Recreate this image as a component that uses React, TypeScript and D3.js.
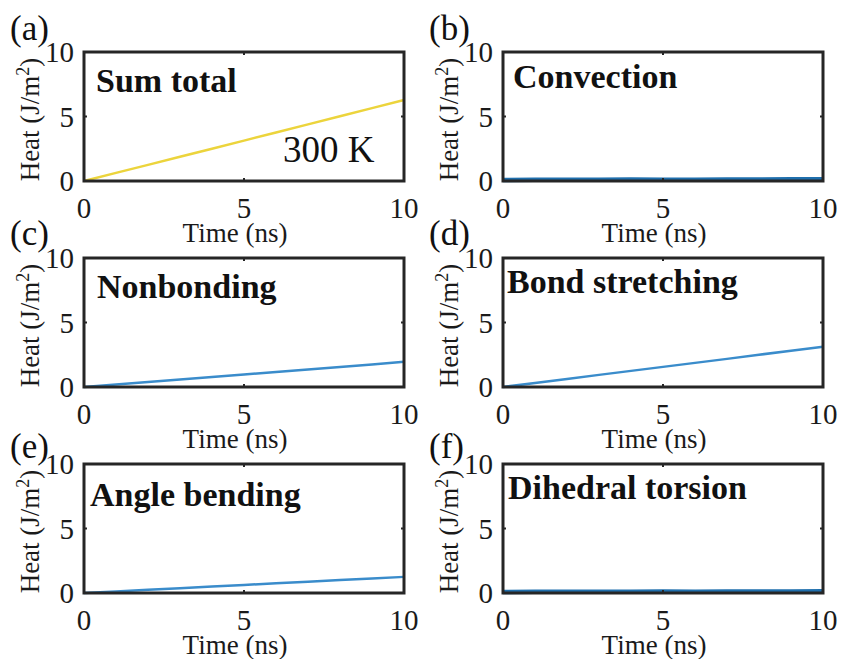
import React from "react";
import * as d3 from "d3";

const timeNs = [0, 1, 2, 3, 4, 5, 6, 7, 8, 9, 10];
const sumTotal = [0, 0.63, 1.25, 1.88, 2.5, 3.13, 3.76, 4.39, 5.02, 5.65, 6.28];
const convection = [0.08, 0.1, 0.09, 0.1, 0.11, 0.1, 0.1, 0.11, 0.12, 0.13, 0.14];
const nonbonding = [0, 0.19, 0.39, 0.58, 0.77, 0.97, 1.16, 1.36, 1.55, 1.75, 1.95];
const bondStretching = [0, 0.31, 0.62, 0.94, 1.25, 1.56, 1.87, 2.18, 2.5, 2.81, 3.12];
const angleBending = [0, 0.12, 0.25, 0.37, 0.5, 0.62, 0.75, 0.87, 1.0, 1.12, 1.25];
const dihedralTorsion = [0.08, 0.09, 0.1, 0.1, 0.1, 0.11, 0.1, 0.11, 0.12, 0.12, 0.13];

const panelTags = ["(a)", "(b)", "(c)", "(d)", "(e)", "(f)"];
const panelTitles = ["Sum total", "Convection", "Nonbonding", "Bond stretching", "Angle bending", "Dihedral torsion"];
const seriesList = [sumTotal, convection, nonbonding, bondStretching, angleBending, dihedralTorsion];
const xTicks = [0, 5, 10];
const yTicks = [0, 5, 10];
const xLabel = "Time (ns)";
const annotation = "300 K";

// styling / layout
const colLeft = [84, 503];
const rowTop = [52, 258, 464];
const plotW = 320;
const plotH = 129;
const titleDx = [12, 10, 13, 4, 6, 5];
const titleDy = [40, 36, 40, 35, 42, 35];
const tagDy = [-12, -12, -13, -13, -6, -6];
const lineColors = ["#ecd43c", "#1f6fad", "#3a8ccb", "#3a8ccb", "#3a8ccb", "#1f6fad"];
const lineWidths = [2.5, 4.5, 2.5, 2.5, 2.5, 4.5];
const serif = "'Liberation Serif', 'Times New Roman', Times, serif";
const frameColor = "#262626";

function Panel({ i }: { i: number }) {
  const col = i % 2;
  const row = Math.floor(i / 2);
  const left = colLeft[col];
  const top = rowTop[row];
  const x = d3.scaleLinear().domain([0, 10]).range([left, left + plotW]);
  const y = d3.scaleLinear().domain([0, 10]).range([top + plotH, top]);
  const line = d3
    .line<number>()
    .x((_, k) => x(timeNs[k]))
    .y((v) => y(v));
  const data = seriesList[i];
  const bottom = top + plotH;
  const tickLen = 3;
  return (
    <g>
      <path d={line(data) || ""} fill="none" stroke={lineColors[i]} strokeWidth={lineWidths[i]} />
      {xTicks.map((t) => (
        <g key={"xt" + t}>
          <line x1={x(t)} x2={x(t)} y1={bottom} y2={bottom - tickLen} stroke={frameColor} strokeWidth={2} />
          <line x1={x(t)} x2={x(t)} y1={top} y2={top + tickLen} stroke={frameColor} strokeWidth={2} />
          <text x={x(t)} y={bottom + 37} fontSize={29} fontFamily={serif} textAnchor="middle" fill="#1a1a1a">
            {t}
          </text>
        </g>
      ))}
      {yTicks.map((t) => (
        <g key={"yt" + t}>
          <line x1={left} x2={left + tickLen} y1={y(t)} y2={y(t)} stroke={frameColor} strokeWidth={2} />
          <line x1={left + plotW} x2={left + plotW - tickLen} y1={y(t)} y2={y(t)} stroke={frameColor} strokeWidth={2} />
          <text x={left - 10} y={y(t)} dy="0.35em" fontSize={29} fontFamily={serif} textAnchor="end" fill="#1a1a1a">
            {t}
          </text>
        </g>
      ))}
      <rect x={left} y={top} width={plotW} height={plotH} fill="none" stroke={frameColor} strokeWidth={3} />
      <text x={left + plotW / 2 - 9} y={bottom + 61} fontSize={27} fontFamily={serif} textAnchor="middle" fill="#1a1a1a">
        {xLabel}
      </text>
      <text
        transform={`translate(${left - 45},${top + plotH / 2 + 3}) rotate(-90)`}
        fontSize={27}
        fontFamily={serif}
        textAnchor="middle"
        fill="#1a1a1a"
      >
        Heat (J/m<tspan dy={-10} fontSize={18}>2</tspan>
        <tspan dy={10}>)</tspan>
      </text>
      <text x={left + titleDx[i]} y={top + titleDy[i]} fontSize={34} fontWeight="bold" fontFamily={serif} fill="#111">
        {panelTitles[i]}
      </text>
      <text x={left - 74} y={top + tagDy[i]} fontSize={35} fontFamily={serif} fill="#111">
        {panelTags[i]}
      </text>
      {i === 0 && (
        <text x={283} y={162} fontSize={37} fontFamily={serif} fill="#111">
          {annotation}
        </text>
      )}
    </g>
  );
}

export default function App() {
  return (
    <svg width={842} height={659} style={{ position: "absolute", left: 0, top: 0, background: "#fff" }}>
      <rect width={842} height={659} fill="#fff" />
      {panelTitles.map((_, i) => (
        <Panel key={i} i={i} />
      ))}
    </svg>
  );
}
